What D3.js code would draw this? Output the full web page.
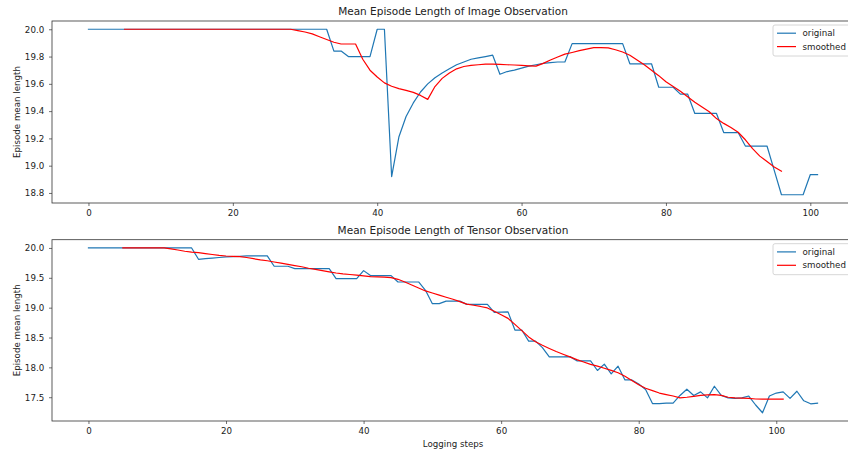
<!DOCTYPE html>
<html>
<head>
<meta charset="utf-8">
<script src="https://cdn.jsdelivr.net/npm/d3@7"></script>
<style>
    body { margin: 0; background: #fff; }
    text { font-family: "DejaVu Sans", sans-serif; fill: #222; }
</style>
</head>
<body>
<svg id="chart" width="848" height="452"></svg>
<script>
// tick labels
var xTicks = [0, 20, 40, 60, 80, 100];
var imgYTicks = [18.8, 19.0, 19.2, 19.4, 19.6, 19.8, 20.0];
var tenYTicks = [17.5, 18.0, 18.5, 19.0, 19.5, 20.0];

var titles = ["Mean Episode Length of Image Observation", "Mean Episode Length of Tensor Observation"];
var seriesNames = ["original", "smoothed"];
var smoothStart = 5; // smoothed curves begin at logging step 5

// image observation, steps 0..101
var imgOriginal = [
    20.0, 20.0, 20.0, 20.0, 20.0, 20.0, 20.0, 20.0, 20.0, 20.0,
    20.0, 20.0, 20.0, 20.0, 20.0, 20.0, 20.0, 20.0, 20.0, 20.0,
    20.0, 20.0, 20.0, 20.0, 20.0, 20.0, 20.0, 20.0, 20.0, 20.0,
    20.0, 20.0, 20.0, 20.0, 19.84, 19.84, 19.80, 19.80, 19.80, 19.80,
    20.0, 20.0, 18.92, 19.21, 19.36, 19.46, 19.54, 19.60, 19.645, 19.68,
    19.71, 19.74, 19.76, 19.78, 19.79, 19.80, 19.81, 19.67, 19.69, 19.70,
    19.715, 19.73, 19.74, 19.75, 19.755, 19.76, 19.76, 19.895, 19.895, 19.895,
    19.895, 19.895, 19.895, 19.895, 19.895, 19.747, 19.747, 19.747, 19.747, 19.575,
    19.575, 19.575, 19.525, 19.525, 19.383, 19.383, 19.383, 19.383, 19.243, 19.243,
    19.243, 19.144, 19.144, 19.144, 19.144, 18.965, 18.787, 18.787, 18.787, 18.787,
    18.935, 18.935
];
// steps 5..96
var imgSmoothed = [
    20.0, 20.0, 20.0, 20.0, 20.0,
    20.0, 20.0, 20.0, 20.0, 20.0, 20.0, 20.0, 20.0, 20.0, 20.0,
    20.0, 20.0, 20.0, 20.0, 20.0, 20.0, 20.0, 20.0, 20.0, 19.99,
    19.98, 19.966, 19.945, 19.925, 19.905, 19.892, 19.892, 19.892, 19.78, 19.70,
    19.65, 19.607, 19.582, 19.565, 19.552, 19.537, 19.515, 19.486, 19.58, 19.64,
    19.68, 19.71, 19.727, 19.735, 19.74, 19.745, 19.745, 19.742, 19.74, 19.738,
    19.735, 19.732, 19.73, 19.75, 19.775, 19.797, 19.818, 19.83, 19.843, 19.855,
    19.865, 19.866, 19.864, 19.85, 19.833, 19.81, 19.775, 19.74, 19.70, 19.66,
    19.615, 19.58, 19.545, 19.506, 19.465, 19.43, 19.395, 19.345, 19.31, 19.28,
    19.245, 19.19, 19.125, 19.07, 19.03, 18.99, 18.96
];

// tensor observation, steps 0..106
var tenOriginal = [
    20.0, 20.0, 20.0, 20.0, 20.0, 20.0, 20.0, 20.0, 20.0, 20.0,
    20.0, 20.0, 20.0, 20.0, 20.0, 20.0, 19.81, 19.82, 19.83, 19.84,
    19.85, 19.855, 19.86, 19.866, 19.866, 19.866, 19.866, 19.693, 19.693, 19.693,
    19.654, 19.654, 19.654, 19.654, 19.654, 19.654, 19.486, 19.486, 19.486, 19.486,
    19.62, 19.537, 19.537, 19.537, 19.537, 19.43, 19.43, 19.43, 19.43, 19.29,
    19.067, 19.067, 19.11, 19.11, 19.11, 19.055, 19.055, 19.055, 19.055, 18.92,
    18.925, 18.93, 18.625, 18.625, 18.44, 18.44, 18.33, 18.175, 18.175, 18.175,
    18.18, 18.11, 18.11, 18.11, 17.948, 18.054, 17.89, 18.02, 17.79, 17.79,
    17.72, 17.63, 17.394, 17.394, 17.40, 17.40, 17.53, 17.634, 17.53, 17.59,
    17.49, 17.684, 17.53, 17.49, 17.48, 17.49, 17.52, 17.37, 17.24, 17.52,
    17.57, 17.59, 17.48, 17.60, 17.44, 17.39, 17.40
];
// steps 5..101
var tenSmoothed = [
    20.0, 20.0, 20.0, 20.0, 20.0,
    20.0, 20.0, 19.985, 19.965, 19.945, 19.93, 19.92, 19.905, 19.89, 19.875,
    19.865, 19.86, 19.855, 19.84, 19.82, 19.80, 19.785, 19.765, 19.745, 19.725,
    19.705, 19.685, 19.66, 19.64, 19.62, 19.60, 19.58, 19.565, 19.555, 19.545,
    19.532, 19.52, 19.515, 19.51, 19.503, 19.475, 19.43, 19.38, 19.33, 19.28,
    19.245, 19.21, 19.175, 19.14, 19.10, 19.06, 19.04, 19.02, 18.995, 18.94,
    18.88, 18.82, 18.72, 18.615, 18.51, 18.43, 18.37, 18.317, 18.265, 18.22,
    18.175, 18.13, 18.09, 18.05, 18.02, 17.985, 17.95, 17.91, 17.85, 17.78,
    17.71, 17.65, 17.61, 17.57, 17.545, 17.52, 17.49, 17.5, 17.515, 17.53,
    17.54, 17.545, 17.53, 17.5, 17.49, 17.485, 17.48, 17.47, 17.467, 17.467,
    17.467, 17.467
];

var svg = d3.select("#chart");
var colors = {original: "#1f77b4", smoothed: "red"};
var tickFont = 8.7,
    titleFont = 10.5,
    plotLeft = 52,
    plotRight = 854; // right spine sits just past the window edge

// matplotlib style 5% margin
function padded(ext) {
    var m = (ext[1] - ext[0]) * 0.05;
    return [ext[0] - m, ext[1] + m];
}

function panel(opts) {
    var g = svg.append("g").classed("panel", true);
    var top = opts.top, bottom = opts.bottom;

    var orig = opts.original.map(function (v, i) { return [i, v]; });
    var smooth = opts.smoothed.map(function (v, i) { return [smoothStart + i, v]; });
    var all = orig.concat(smooth);

    var x = d3.scaleLinear()
        .domain(padded(d3.extent(all, function (d) { return d[0]; })))
        .range([plotLeft, plotRight]);
    var y = d3.scaleLinear()
        .domain(padded(d3.extent(all, function (d) { return d[1]; })))
        .range([bottom, top]);

    // x axis
    var xa = g.append("g")
        .attr("transform", "translate(0," + bottom + ")")
        .call(d3.axisBottom(x).tickValues(xTicks).tickSize(3).tickPadding(4.3).tickSizeOuter(0));
    // y axis
    var ya = g.append("g")
        .attr("transform", "translate(" + plotLeft + ",0)")
        .call(d3.axisLeft(y).tickValues(opts.yTicks).tickFormat(d3.format(".1f"))
            .tickSize(3).tickPadding(4.8).tickSizeOuter(0));
    [xa, ya].forEach(function (a) {
        a.select(".domain").remove();
        a.selectAll(".tick line").attr("stroke", "#333").attr("stroke-width", 0.7);
        a.selectAll(".tick text")
            .style("font-family", "'DejaVu Sans', sans-serif")
            .style("font-size", tickFont + "px")
            .attr("fill", "#222");
    });

    // lines
    var line = d3.line()
        .x(function (d) { return x(d[0]); })
        .y(function (d) { return y(d[1]); });
    [[orig, "original"], [smooth, "smoothed"]].forEach(function (s) {
        g.append("path")
            .datum(s[0])
            .attr("d", line)
            .attr("fill", "none")
            .attr("stroke", colors[s[1]])
            .attr("stroke-width", 1.2)
            .attr("stroke-linejoin", "round")
            .attr("stroke-linecap", "square");
    });

    // frame
    g.append("rect")
        .attr("x", plotLeft)
        .attr("y", top)
        .attr("width", plotRight - plotLeft)
        .attr("height", bottom - top)
        .attr("fill", "none")
        .attr("stroke", "#333")
        .attr("stroke-width", 0.8);

    // title
    g.append("text")
        .attr("x", (plotLeft + plotRight) / 2)
        .attr("y", top - 5.6)
        .attr("text-anchor", "middle")
        .style("font-size", titleFont + "px")
        .text(opts.title);

    // y label
    g.append("text")
        .attr("transform", "translate(19.5," + ((top + bottom) / 2) + ") rotate(-90)")
        .attr("text-anchor", "middle")
        .style("font-size", tickFont + "px")
        .text("Episode mean length");

    if (opts.xLabel) {
        g.append("text")
            .attr("x", (plotLeft + plotRight) / 2)
            .attr("y", bottom + 25.8)
            .attr("text-anchor", "middle")
            .style("font-size", tickFont + "px")
            .text(opts.xLabel);
    }

    // legend
    var lg = g.append("g").attr("transform", "translate(773," + (top + 4) + ")");
    lg.append("rect")
        .attr("width", 78)
        .attr("height", 31)
        .attr("rx", 2)
        .attr("fill", "#fff")
        .attr("fill-opacity", 0.8)
        .attr("stroke", "#ccc")
        .attr("stroke-width", 0.8);
    seriesNames.forEach(function (name, i) {
        var cy = 8.2 + i * 13.4;
        lg.append("line")
            .attr("x1", 4).attr("x2", 23)
            .attr("y1", cy).attr("y2", cy)
            .attr("stroke", colors[name])
            .attr("stroke-width", 1.2);
        lg.append("text")
            .attr("x", 29.5)
            .attr("y", cy + 3.2)
            .style("font-size", tickFont + "px")
            .text(name);
    });
}

panel({top: 21, bottom: 203, original: imgOriginal, smoothed: imgSmoothed,
       yTicks: imgYTicks, title: titles[0]});
panel({top: 239.7, bottom: 421, original: tenOriginal, smoothed: tenSmoothed,
       yTicks: tenYTicks, title: titles[1], xLabel: "Logging steps"});
</script>
</body>
</html>
